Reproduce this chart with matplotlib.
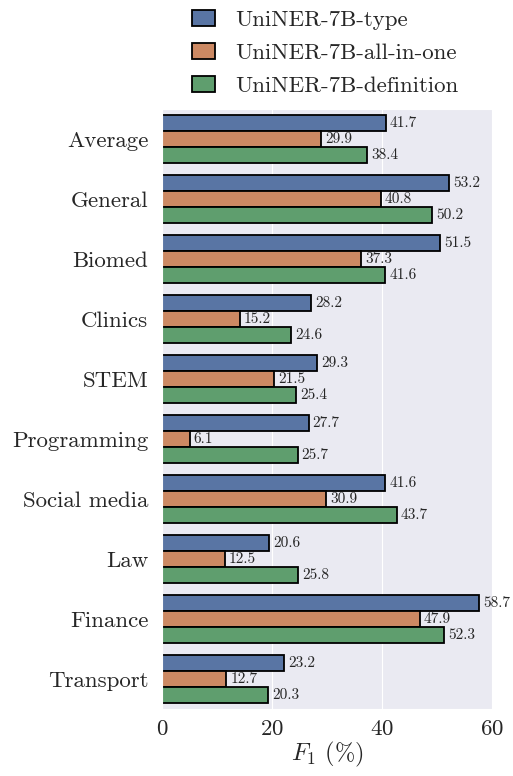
import numpy as np
import matplotlib
matplotlib.use("Agg")
import matplotlib.pyplot as plt
import seaborn as sns

categories = ["Average", "General", "Biomed", "Clinics", "STEM", "Programming",
              "Social media", "Law", "Finance", "Transport"]
series_names = ["UniNER-7B-type", "UniNER-7B-all-in-one", "UniNER-7B-definition"]

# printed value labels
lbl_type = [41.7, 53.2, 51.5, 28.2, 29.3, 27.7, 41.6, 20.6, 58.7, 23.2]
lbl_all_in_one = [29.9, 40.8, 37.3, 15.2, 21.5, 6.1, 30.9, 12.5, 47.9, 12.7]
lbl_definition = [38.4, 50.2, 41.6, 24.6, 25.4, 25.7, 43.7, 25.8, 52.3, 20.3]

# bar lengths as drawn in the figure (bars stop a bit short of their labels)
f1_type = [40.6, 52.1, 50.4, 27.1, 28.2, 26.6, 40.5, 19.5, 57.6, 22.1]
f1_all_in_one = [28.8, 39.7, 36.2, 14.1, 20.4, 5.0, 29.8, 11.4, 46.8, 11.6]
f1_definition = [37.3, 49.1, 40.5, 23.5, 24.3, 24.6, 42.6, 24.7, 51.2, 19.2]

sns.set_style("darkgrid")
plt.rcParams["font.family"] = "serif"
plt.rcParams["font.serif"] = ["cmr10"]
plt.rcParams["mathtext.fontset"] = "cm"
plt.rcParams["axes.formatter.use_mathtext"] = True

colors = [sns.desaturate(c, 0.75) for c in sns.color_palette("deep")[:3]]

fig = plt.figure(figsize=(5.13, 7.76), dpi=100)
ax = fig.add_axes([0.316, 0.086, 0.645, 0.773])

y = np.arange(len(categories))
h = 0.8 / 3
all_series = [f1_type, f1_all_in_one, f1_definition]
all_labels = [lbl_type, lbl_all_in_one, lbl_definition]
for i, (vals, lbls, name) in enumerate(zip(all_series, all_labels, series_names)):
    bars = ax.barh(y + (i - 1) * h, vals, height=h, color=colors[i],
                   edgecolor="black", linewidth=1.3, label=name)
    ax.bar_label(bars, labels=[f"{v:.1f}" for v in lbls], padding=3, fontsize=11)

ax.set_yticks(y)
ax.set_yticklabels(categories, fontsize=16.5)
ax.set_ylim(len(categories) - 0.5, -0.5)
ax.set_xlim(0, 60.1)
ax.set_xticks([0, 20, 40, 60])
ax.tick_params(axis="x", labelsize=16.5)
ax.tick_params(axis="y", pad=6.4)
ax.set_xlabel(r"$F_1$ (%)", fontsize=17.5, labelpad=1)
ax.grid(axis="y", visible=False)

handles, labels = ax.get_legend_handles_labels()
fig.legend(handles, labels, loc="upper left", bbox_to_anchor=(0.335, 1.014),
           frameon=False, fontsize=16.5, handlelength=1.0, handleheight=0.7,
           labelspacing=0.58, handletextpad=0.87)

fig.savefig("out.png", dpi=100)
